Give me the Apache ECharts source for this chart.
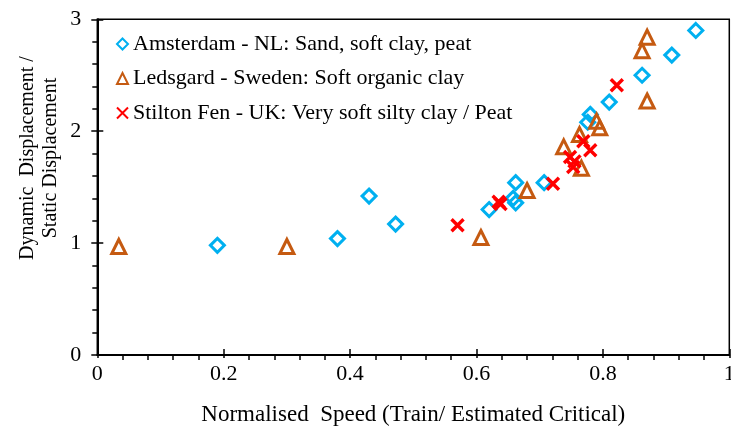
<!DOCTYPE html>
<html><head><meta charset="utf-8">
<script src="https://cdn.jsdelivr.net/npm/echarts@6/dist/echarts.min.js"></script>
<style>html,body{margin:0;padding:0;background:#fff}#c{width:731px;height:428px}</style>
</head><body><div id="c"></div>
<script>
const seriesNames = ['Amsterdam - NL: Sand, soft clay, peat', 'Ledsgard - Sweden: Soft organic clay', 'Stilton Fen - UK: Very soft silty clay / Peat'];
const amsX = [0.19, 0.38, 0.43, 0.472, 0.62, 0.658, 0.662, 0.662, 0.707, 0.776, 0.780, 0.81, 0.862, 0.909, 0.947];
const amsY = [0.98, 1.04, 1.42, 1.17, 1.30, 1.40, 1.36, 1.54, 1.54, 2.08, 2.15, 2.26, 2.50, 2.68, 2.90];
const ledX = [0.034, 0.30, 0.607, 0.68, 0.738, 0.763, 0.766, 0.79, 0.795, 0.862, 0.870, 0.870];
const ledY = [0.97, 0.97, 1.05, 1.47, 1.86, 1.97, 1.67, 2.09, 2.03, 2.72, 2.84, 2.27];
const stiX = [0.57, 0.635, 0.638, 0.721, 0.748, 0.755, 0.753, 0.769, 0.78, 0.822];
const stiY = [1.16, 1.37, 1.35, 1.53, 1.77, 1.73, 1.68, 1.91, 1.83, 2.41];
const xTicks = [0, 0.2, 0.4, 0.6, 0.8, 1];
const yTicks = [0, 1, 2, 3];
const xTitle = 'Normalised  Speed (Train/ Estimated Critical)';
const yTitle = 'Dynamic  Displacement /\nStatic Displacement';

const pairs = (xs, ys) => xs.map((x, i) => [x, ys[i]]);
const FONT = 'Liberation Serif';
const xPath = 'path://M0,0L10,10M10,0L0,10';

const chart = echarts.init(document.getElementById('c'));
const baseAxis = {
  axisLine: {show: true, onZero: false, lineStyle: {color: '#000', width: 2}},
  splitLine: {show: false},
};
chart.setOption({
  animation: false,
  grid: {left: 97.3, right: 1.7, top: 19.3, bottom: 73, outerBoundsMode: 'none', containLabel: false,
         show: true, borderColor: '#000', borderWidth: 1.5, backgroundColor: 'transparent'},
  legend: {
    orient: 'vertical', left: 111, top: 28, itemWidth: 11, itemHeight: 11, itemGap: 12.5,
    textStyle: {fontFamily: FONT, fontSize: 22, color: '#000', lineHeight: 22},
    data: seriesNames
  },
  xAxis: [
    Object.assign({}, baseAxis, {
      type: 'value', min: xTicks[0], max: xTicks[xTicks.length - 1], interval: 0.2,
      axisTick: {show: true, inside: false, length: 3, lineStyle: {color: '#000', width: 1.5}},
      minorTick: {show: true, splitNumber: 5, length: 5, lineStyle: {color: '#000', width: 1.5}},
      axisLabel: {fontFamily: FONT, fontSize: 22, color: '#000', margin: 8, showMaxLabel: true},
      name: xTitle, nameLocation: 'middle', nameGap: 48,
      nameTextStyle: {fontFamily: FONT, fontSize: 23, color: '#000'}
    }),
    {
      type: 'value', min: 0, max: 1, interval: 0.2, position: 'bottom', offset: 0,
      axisLine: {show: false}, axisLabel: {show: false}, splitLine: {show: false},
      axisTick: {show: true, inside: true, length: 6, lineStyle: {color: '#000', width: 1.5}}
    }
  ],
  yAxis: [
    Object.assign({}, baseAxis, {
      type: 'value', min: yTicks[0], max: yTicks[yTicks.length - 1], interval: 1,
      axisTick: {show: true, inside: false, length: 6, lineStyle: {color: '#000', width: 1.5}},
      minorTick: {show: true, splitNumber: 5, length: 5, lineStyle: {color: '#000', width: 1.5}},
      axisLabel: {fontFamily: FONT, fontSize: 22, color: '#000', margin: 16}
    }),
    {
      type: 'value', min: 0, max: 3, interval: 1, position: 'left',
      axisLine: {show: false}, axisLabel: {show: false}, splitLine: {show: false},
      axisTick: {show: true, inside: true, length: 6, lineStyle: {color: '#000', width: 1.5}}
    }
  ],
  graphic: [{
    type: 'text', x: 39.5, y: 158, rotation: Math.PI / 2,
    style: {text: yTitle, font: '20px "Liberation Serif"', fill: '#000', align: 'center', verticalAlign: 'middle', lineHeight: 23}
  }],
  series: [
    {
      name: seriesNames[0], type: 'scatter', symbol: 'diamond', symbolSize: 14,
      itemStyle: {color: 'rgba(255,255,255,0)', borderColor: '#00B0F0', borderWidth: 3, opacity: 1},
      data: pairs(amsX, amsY)
    },
    {
      name: seriesNames[1], type: 'scatter', symbol: 'triangle', symbolSize: 14,
      itemStyle: {color: 'rgba(255,255,255,0)', borderColor: '#C55A11', borderWidth: 3, opacity: 1},
      data: pairs(ledX, ledY)
    },
    {
      name: seriesNames[2], type: 'scatter', symbol: xPath, symbolSize: 12,
      itemStyle: {color: 'rgba(255,255,255,0)', borderColor: '#FF0000', borderWidth: 3.4, opacity: 1},
      data: pairs(stiX, stiY)
    }
  ]
});
</script>
</body></html>
